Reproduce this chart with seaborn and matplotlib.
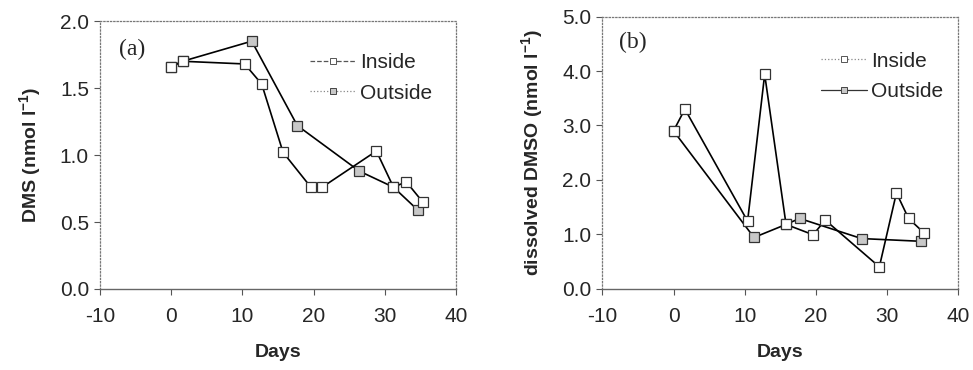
import numpy as np
import pandas as pd
import matplotlib
matplotlib.use('Agg')
import matplotlib.pyplot as plt
import seaborn as sns
from matplotlib.lines import Line2D
from matplotlib.ticker import FormatStrFormatter

# panel (a) DMS
a_in_days = [0, 1.6, 10.3, 12.7, 15.7, 19.6, 21.2, 28.8, 31.2, 33.0, 35.3]
a_in_vals = [1.66, 1.70, 1.68, 1.53, 1.02, 0.76, 0.76, 1.03, 0.76, 0.80, 0.65]
a_out_days = [0, 1.6, 11.3, 17.7, 26.4, 31.2, 34.6]
a_out_vals = [1.66, 1.70, 1.85, 1.22, 0.88, 0.76, 0.59]

# panel (b) dissolved DMSO
b_in_days = [0, 1.6, 10.4, 12.8, 15.8, 19.6, 21.3, 28.9, 31.3, 33.0, 35.2]
b_in_vals = [2.90, 3.30, 1.24, 3.94, 1.18, 0.99, 1.26, 0.40, 1.76, 1.29, 1.02]
b_out_days = [0, 11.3, 15.8, 17.7, 26.4, 34.7]
b_out_vals = [2.90, 0.94, 1.18, 1.29, 0.92, 0.87]

x_ticks = [-10, 0, 10, 20, 30, 40]

sns.set_style("white")
plt.rcParams['font.family'] = ['Liberation Sans', 'DejaVu Sans']
plt.rcParams['axes.unicode_minus'] = False
plt.rcParams['mathtext.fontset'] = 'custom'
plt.rcParams['mathtext.rm'] = 'Liberation Sans:bold'
plt.rcParams['mathtext.it'] = 'Liberation Sans:bold'

fig = plt.figure(figsize=(9.73, 3.70), dpi=100)
ax_a = fig.add_axes([0.1028, 0.219, 0.366, 0.724])
ax_b = fig.add_axes([0.619, 0.220, 0.366, 0.735])

def draw_panel(ax, in_d, in_v, out_d, out_v):
    df_in = pd.DataFrame({'Days': in_d, 'val': in_v})
    df_out = pd.DataFrame({'Days': out_d, 'val': out_v})
    sns.lineplot(data=df_out, x='Days', y='val', ax=ax, sort=False, estimator=None,
                 color='black', linewidth=1.2, marker='s', markersize=6.5,
                 markerfacecolor='#c8c8c8', markeredgecolor='#333333', markeredgewidth=0.9)
    sns.lineplot(data=df_in, x='Days', y='val', ax=ax, sort=False, estimator=None,
                 color='black', linewidth=1.2, marker='s', markersize=6.5,
                 markerfacecolor='white', markeredgecolor='#333333', markeredgewidth=0.9)
    ax.set_xlim(-10, 40)
    ax.set_xticks(x_ticks)
    ax.set_xlabel('Days', fontsize=14, fontweight='bold', labelpad=13)
    ax.tick_params(axis='both', direction='out', length=4, width=0.8, color='#555555',
                   labelsize=15, left=True, bottom=True)
    ax.tick_params(axis='x', pad=9)
    ax.tick_params(axis='y', pad=4)
    ax.yaxis.set_major_formatter(FormatStrFormatter('%.1f'))
    for side in ['top', 'right', 'left']:
        ax.spines[side].set_linestyle(':')
        ax.spines[side].set_color('#777777')
        ax.spines[side].set_linewidth(0.9)
    ax.spines['bottom'].set_color('#666666')
    ax.spines['bottom'].set_linewidth(1.0)
    ax.grid(False)

draw_panel(ax_a, a_in_days, a_in_vals, a_out_days, a_out_vals)
ax_a.set_ylim(0, 2.0)
ax_a.set_yticks([0, 0.5, 1.0, 1.5, 2.0])
ax_a.set_ylabel('DMS (nmol l$^{-1}$)', fontsize=14, fontweight='bold', labelpad=12)
ax_a.text(-7.3, 1.79, '(a)', fontsize=17, family='Liberation Serif', va='center')

draw_panel(ax_b, b_in_days, b_in_vals, b_out_days, b_out_vals)
ax_b.set_ylim(0, 5.0)
ax_b.set_yticks([0, 1, 2, 3, 4, 5])
ax_b.set_ylabel('dissolved DMSO (nmol l$^{-1}$)', fontsize=14, fontweight='bold', labelpad=12)
ax_b.text(-7.6, 4.52, '(b)', fontsize=17, family='Liberation Serif', va='center')

h_a = [Line2D([0], [0], color='#555555', linestyle='--', linewidth=0.9, marker='s', markersize=5,
              markerfacecolor='white', markeredgecolor='#555555', markeredgewidth=0.7),
       Line2D([0], [0], color='#888888', linestyle=':', linewidth=0.9, marker='s', markersize=5,
              markerfacecolor='#c8c8c8', markeredgecolor='#444444', markeredgewidth=0.7)]
ax_a.legend(h_a, ['Inside', 'Outside'], loc='upper right', bbox_to_anchor=(0.985, 0.95),
            frameon=False, fontsize=15, handlelength=2.2, handletextpad=0.2, labelspacing=0.55)

h_b = [Line2D([0], [0], color='#888888', linestyle=':', linewidth=0.9, marker='s', markersize=5,
              markerfacecolor='white', markeredgecolor='#555555', markeredgewidth=0.7),
       Line2D([0], [0], color='#333333', linestyle='-', linewidth=0.9, marker='s', markersize=5,
              markerfacecolor='#c8c8c8', markeredgecolor='#444444', markeredgewidth=0.7)]
ax_b.legend(h_b, ['Inside', 'Outside'], loc='upper right', bbox_to_anchor=(1.01, 0.94),
            frameon=False, fontsize=15, handlelength=2.2, handletextpad=0.2, labelspacing=0.55)

fig.savefig('out.png', dpi=100)
